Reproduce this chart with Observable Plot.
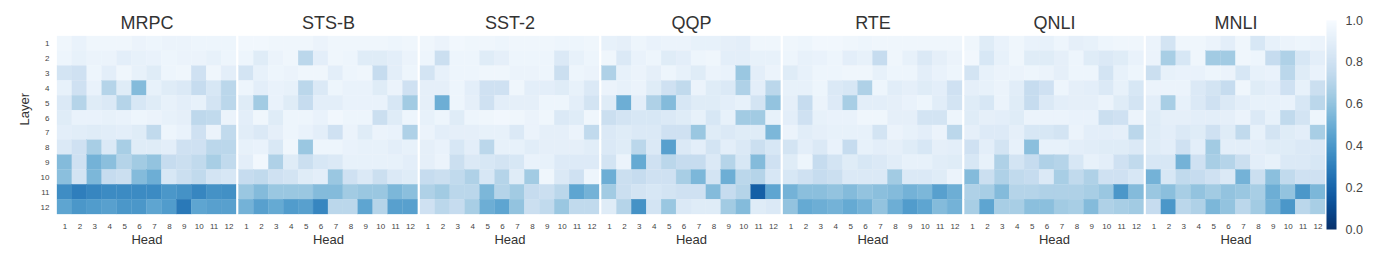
<!DOCTYPE html>
<html>
<head>
<meta charset="utf-8">
<script src="https://cdn.jsdelivr.net/npm/d3@7"></script>
<script src="https://cdn.jsdelivr.net/npm/@observablehq/plot@0.6"></script>
<style>
  html, body { margin: 0; padding: 0; background: #fff; }
  #wrap { position: relative; width: 1381px; height: 266px; overflow: hidden; font-family: "Liberation Sans", Arial, sans-serif; }
  #wrap svg { position: absolute; top: 0; }
</style>
</head>
<body>
<div id="wrap"></div>
<script>
const tasks = ["MRPC", "STS-B", "SST-2", "QQP", "RTE", "QNLI", "MNLI"];
const heads = [1, 2, 3, 4, 5, 6, 7, 8, 9, 10, 11, 12];
const layers = [1, 2, 3, 4, 5, 6, 7, 8, 9, 10, 11, 12];
const colorbarTicks = [0, 0.2, 0.4, 0.6, 0.8, 1.0];

// rows = layers 1..12, columns = heads 1..12
const mrpc = [
  [0.96, 0.93, 0.96, 0.96, 0.96, 0.94, 0.95, 0.94, 0.94, 0.95, 0.95, 0.95],
  [0.95, 0.92, 0.94, 0.94, 0.90, 0.92, 0.93, 0.95, 0.94, 0.94, 0.92, 0.95],
  [0.82, 0.80, 0.95, 0.90, 0.96, 0.92, 0.88, 0.95, 0.96, 0.80, 0.96, 0.90],
  [0.92, 0.80, 0.93, 0.70, 0.88, 0.56, 0.92, 0.88, 0.86, 0.76, 0.84, 0.72],
  [0.86, 0.70, 0.88, 0.86, 0.70, 0.84, 0.88, 0.92, 0.90, 0.92, 0.82, 0.72],
  [0.88, 0.93, 0.93, 0.92, 0.93, 0.95, 0.94, 0.92, 0.91, 0.73, 0.74, 0.94],
  [0.90, 0.89, 0.88, 0.89, 0.90, 0.88, 0.74, 0.95, 0.93, 0.80, 0.94, 0.74],
  [0.86, 0.80, 0.66, 0.86, 0.66, 0.88, 0.88, 0.90, 0.80, 0.80, 0.72, 0.72],
  [0.56, 0.80, 0.52, 0.58, 0.70, 0.64, 0.60, 0.76, 0.78, 0.74, 0.66, 0.74],
  [0.58, 0.82, 0.54, 0.76, 0.78, 0.56, 0.50, 0.84, 0.78, 0.74, 0.82, 0.84],
  [0.36, 0.30, 0.33, 0.35, 0.35, 0.35, 0.35, 0.40, 0.38, 0.33, 0.38, 0.37],
  [0.46, 0.40, 0.42, 0.44, 0.40, 0.40, 0.46, 0.42, 0.28, 0.46, 0.44, 0.44]
];
const stsb = [
  [0.97, 0.97, 0.96, 0.96, 0.96, 0.94, 0.96, 0.96, 0.96, 0.96, 0.95, 0.96],
  [0.95, 0.88, 0.94, 0.96, 0.72, 0.90, 0.96, 0.95, 0.88, 0.88, 0.90, 0.94],
  [0.82, 0.92, 0.95, 0.94, 0.96, 0.96, 0.90, 0.95, 0.96, 0.76, 0.90, 0.95],
  [0.95, 0.90, 0.93, 0.92, 0.72, 0.86, 0.95, 0.93, 0.93, 0.88, 0.94, 0.80],
  [0.88, 0.64, 0.93, 0.88, 0.76, 0.90, 0.90, 0.93, 0.93, 0.93, 0.84, 0.64],
  [0.90, 0.96, 0.88, 0.95, 0.95, 0.93, 0.97, 0.95, 0.95, 0.78, 0.88, 0.95],
  [0.89, 0.86, 0.91, 0.95, 0.93, 0.90, 0.80, 0.94, 0.88, 0.94, 0.93, 0.68],
  [0.92, 0.93, 0.85, 0.96, 0.62, 0.95, 0.95, 0.93, 0.92, 0.92, 0.90, 0.92],
  [0.90, 0.97, 0.68, 0.88, 0.78, 0.84, 0.86, 0.92, 0.92, 0.92, 0.92, 0.90],
  [0.76, 0.74, 0.80, 0.82, 0.88, 0.90, 0.62, 0.80, 0.86, 0.78, 0.86, 0.88],
  [0.62, 0.56, 0.62, 0.62, 0.62, 0.56, 0.56, 0.64, 0.62, 0.62, 0.54, 0.58],
  [0.52, 0.44, 0.48, 0.42, 0.44, 0.33, 0.72, 0.72, 0.46, 0.70, 0.44, 0.44]
];
const sst2 = [
  [0.96, 0.94, 0.97, 0.96, 0.96, 0.95, 0.96, 0.96, 0.96, 0.95, 0.95, 0.96],
  [0.95, 0.78, 0.95, 0.95, 0.88, 0.91, 0.95, 0.95, 0.95, 0.86, 0.92, 0.95],
  [0.82, 0.92, 0.95, 0.95, 0.96, 0.96, 0.94, 0.94, 0.95, 0.78, 0.95, 0.94],
  [0.91, 0.91, 0.95, 0.90, 0.80, 0.80, 0.96, 0.90, 0.90, 0.88, 0.92, 0.86],
  [0.91, 0.50, 0.95, 0.91, 0.80, 0.90, 0.91, 0.91, 0.95, 0.95, 0.90, 0.82],
  [0.92, 0.95, 0.88, 0.95, 0.96, 0.97, 0.96, 0.94, 0.96, 0.86, 0.88, 0.96],
  [0.94, 0.90, 0.91, 0.91, 0.92, 0.92, 0.86, 0.94, 0.91, 0.91, 0.94, 0.74],
  [0.91, 0.93, 0.84, 0.90, 0.72, 0.92, 0.92, 0.89, 0.91, 0.91, 0.91, 0.89],
  [0.91, 0.94, 0.78, 0.86, 0.84, 0.82, 0.84, 0.93, 0.92, 0.87, 0.87, 0.87],
  [0.76, 0.78, 0.74, 0.68, 0.84, 0.70, 0.88, 0.64, 0.96, 0.86, 0.80, 0.95],
  [0.68, 0.64, 0.72, 0.72, 0.54, 0.70, 0.64, 0.76, 0.78, 0.72, 0.46, 0.52],
  [0.80, 0.72, 0.76, 0.66, 0.50, 0.46, 0.60, 0.78, 0.74, 0.62, 0.74, 0.74]
];
const qqp = [
  [0.92, 0.91, 0.95, 0.93, 0.94, 0.94, 0.92, 0.92, 0.91, 0.90, 0.96, 0.96],
  [0.96, 0.86, 0.93, 0.95, 0.88, 0.90, 0.95, 0.96, 0.90, 0.90, 0.92, 0.92],
  [0.68, 0.92, 0.94, 0.91, 0.95, 0.92, 0.88, 0.94, 0.93, 0.62, 0.90, 0.94],
  [0.94, 0.92, 0.94, 0.88, 0.80, 0.74, 0.94, 0.88, 0.86, 0.68, 0.90, 0.72],
  [0.88, 0.50, 0.90, 0.68, 0.56, 0.84, 0.88, 0.88, 0.90, 0.92, 0.82, 0.60],
  [0.78, 0.82, 0.84, 0.84, 0.86, 0.88, 0.92, 0.84, 0.92, 0.64, 0.64, 0.92],
  [0.86, 0.88, 0.86, 0.86, 0.80, 0.80, 0.62, 0.88, 0.86, 0.88, 0.88, 0.54],
  [0.86, 0.88, 0.72, 0.86, 0.44, 0.86, 0.90, 0.82, 0.90, 0.86, 0.78, 0.84],
  [0.82, 0.94, 0.48, 0.80, 0.72, 0.76, 0.76, 0.86, 0.70, 0.84, 0.56, 0.80],
  [0.50, 0.78, 0.76, 0.80, 0.80, 0.66, 0.54, 0.82, 0.50, 0.72, 0.70, 0.84],
  [0.64, 0.78, 0.82, 0.84, 0.82, 0.80, 0.80, 0.56, 0.76, 0.70, 0.18, 0.46],
  [0.88, 0.70, 0.38, 0.82, 0.62, 0.86, 0.88, 0.88, 0.64, 0.56, 0.88, 0.86]
];
const rte = [
  [0.96, 0.95, 0.97, 0.97, 0.96, 0.95, 0.96, 0.96, 0.96, 0.96, 0.96, 0.96],
  [0.95, 0.92, 0.93, 0.95, 0.90, 0.92, 0.76, 0.96, 0.92, 0.86, 0.91, 0.94],
  [0.88, 0.92, 0.95, 0.95, 0.96, 0.96, 0.92, 0.95, 0.95, 0.90, 0.93, 0.95],
  [0.92, 0.92, 0.95, 0.86, 0.84, 0.68, 0.95, 0.89, 0.91, 0.88, 0.90, 0.80],
  [0.91, 0.76, 0.94, 0.87, 0.66, 0.90, 0.90, 0.91, 0.93, 0.95, 0.89, 0.82],
  [0.90, 0.80, 0.92, 0.93, 0.93, 0.96, 0.96, 0.91, 0.91, 0.82, 0.82, 0.95],
  [0.94, 0.89, 0.91, 0.92, 0.92, 0.92, 0.82, 0.94, 0.92, 0.90, 0.94, 0.72],
  [0.82, 0.90, 0.86, 0.93, 0.76, 0.92, 0.90, 0.91, 0.88, 0.84, 0.91, 0.90],
  [0.88, 0.95, 0.76, 0.82, 0.88, 0.84, 0.86, 0.89, 0.92, 0.92, 0.89, 0.88],
  [0.84, 0.80, 0.76, 0.78, 0.86, 0.86, 0.86, 0.64, 0.86, 0.86, 0.88, 0.94],
  [0.52, 0.58, 0.58, 0.60, 0.56, 0.60, 0.58, 0.56, 0.52, 0.54, 0.44, 0.50],
  [0.60, 0.48, 0.50, 0.52, 0.48, 0.52, 0.60, 0.50, 0.42, 0.46, 0.56, 0.52]
];
const qnli = [
  [0.96, 0.88, 0.93, 0.96, 0.93, 0.92, 0.95, 0.91, 0.92, 0.95, 0.96, 0.96],
  [0.97, 0.84, 0.92, 0.96, 0.88, 0.88, 0.91, 0.95, 0.88, 0.86, 0.88, 0.93],
  [0.82, 0.92, 0.94, 0.94, 0.95, 0.94, 0.91, 0.95, 0.95, 0.82, 0.92, 0.95],
  [0.91, 0.92, 0.94, 0.89, 0.76, 0.80, 0.95, 0.91, 0.90, 0.86, 0.92, 0.84],
  [0.88, 0.84, 0.94, 0.88, 0.76, 0.86, 0.90, 0.91, 0.91, 0.94, 0.88, 0.82],
  [0.88, 0.91, 0.90, 0.88, 0.94, 0.94, 0.94, 0.93, 0.93, 0.78, 0.80, 0.94],
  [0.91, 0.87, 0.87, 0.91, 0.84, 0.84, 0.82, 0.94, 0.90, 0.90, 0.91, 0.72],
  [0.80, 0.90, 0.82, 0.92, 0.58, 0.92, 0.92, 0.90, 0.89, 0.88, 0.88, 0.86],
  [0.84, 0.92, 0.68, 0.82, 0.76, 0.68, 0.70, 0.84, 0.92, 0.90, 0.80, 0.74],
  [0.56, 0.78, 0.68, 0.74, 0.76, 0.86, 0.66, 0.74, 0.68, 0.80, 0.80, 0.84],
  [0.68, 0.66, 0.56, 0.70, 0.70, 0.68, 0.68, 0.68, 0.66, 0.62, 0.40, 0.56],
  [0.66, 0.46, 0.66, 0.66, 0.58, 0.58, 0.64, 0.66, 0.56, 0.68, 0.66, 0.64]
];
const mnli = [
  [0.94, 0.82, 0.96, 0.96, 0.94, 0.90, 0.96, 0.84, 0.92, 0.94, 0.95, 0.94],
  [0.94, 0.66, 0.84, 0.96, 0.64, 0.64, 0.96, 0.95, 0.76, 0.68, 0.84, 0.90],
  [0.78, 0.92, 0.93, 0.93, 0.95, 0.94, 0.84, 0.92, 0.93, 0.72, 0.88, 0.93],
  [0.94, 0.94, 0.94, 0.86, 0.82, 0.76, 0.96, 0.88, 0.90, 0.80, 0.92, 0.78],
  [0.90, 0.66, 0.92, 0.86, 0.80, 0.86, 0.90, 0.92, 0.92, 0.93, 0.84, 0.72],
  [0.88, 0.91, 0.91, 0.90, 0.90, 0.91, 0.94, 0.86, 0.92, 0.74, 0.82, 0.95],
  [0.88, 0.90, 0.86, 0.88, 0.80, 0.88, 0.74, 0.92, 0.82, 0.88, 0.90, 0.66],
  [0.88, 0.90, 0.80, 0.90, 0.64, 0.90, 0.90, 0.90, 0.88, 0.88, 0.86, 0.86],
  [0.84, 0.84, 0.52, 0.80, 0.66, 0.70, 0.78, 0.90, 0.92, 0.86, 0.86, 0.84],
  [0.52, 0.84, 0.74, 0.76, 0.80, 0.86, 0.52, 0.78, 0.58, 0.74, 0.80, 0.80],
  [0.62, 0.58, 0.66, 0.60, 0.64, 0.60, 0.62, 0.66, 0.50, 0.60, 0.40, 0.54],
  [0.76, 0.40, 0.72, 0.68, 0.54, 0.60, 0.72, 0.64, 0.52, 0.40, 0.72, 0.66]
];

const grids = [mrpc, stsb, sst2, qqp, rte, qnli, mnli];
const cells = [];
tasks.forEach((task, ti) => {
  grids[ti].forEach((row, li) => {
    row.forEach((v, hi) => {
      cells.push({task, layer: layers[li], head: heads[hi], v});
    });
  });
});

const font = "'Liberation Sans', Arial, sans-serif";
const colorScale = {type: "linear", scheme: "blues", reverse: true, domain: [0, 1]};

const main = Plot.plot({
  width: 1381,
  height: 266,
  marginLeft: 57,
  marginRight: 56,
  marginTop: 36,
  marginBottom: 52,
  style: {fontFamily: font, color: "#333", background: "transparent"},
  fx: {domain: tasks, paddingInner: 0.0138, paddingOuter: 0, round: false},
  x: {domain: heads, padding: 0, round: false},
  y: {domain: layers, padding: 0, round: false},
  color: colorScale,
  marks: [
    Plot.cell(cells, {fx: "task", x: "head", y: "layer", fill: "v", stroke: "v", strokeWidth: 0.3, inset: 0}),
    Plot.axisFx({anchor: "top", tickSize: 0, tickPadding: 8, fontSize: 18, label: null}),
    Plot.axisX({anchor: "bottom", tickSize: 0, tickPadding: 9, fontSize: 8, label: null, fill: "#444"}),
    Plot.axisY({anchor: "left", tickSize: 0, tickPadding: 8, fontSize: 8, label: null, fill: "#444"}),
    Plot.text(["Layer"], {fx: () => tasks[0], text: d => d, frameAnchor: "left", dx: -33, rotate: -90, fontSize: 13, fill: "#333"}),
    Plot.text(tasks, {fx: d => d, text: () => "Head", frameAnchor: "bottom", dy: 29.5, fontSize: 13, fill: "#333"})
  ]
});
main.style.left = "0px";

const bar = Plot.plot({
  width: 60,
  height: 266,
  marginLeft: 1,
  marginRight: 49,
  marginTop: 20,
  marginBottom: 37,
  style: {fontFamily: font, color: "#333", background: "transparent", overflow: "visible"},
  x: {domain: [0, 1], axis: null},
  y: {domain: [0, 1]},
  color: colorScale,
  marks: [
    Plot.raster({x1: 0, x2: 1, y1: 0, y2: 1, width: 1, height: 256, fill: (x, y) => y, imageRendering: "auto"}),
    Plot.axisY({anchor: "right", ticks: colorbarTicks, tickFormat: d3.format(".1f"), tickSize: 0, tickPadding: 9, fontSize: 12.5, label: null, fill: "#444"})
  ]
});
bar.style.left = "1325px";

const wrap = document.getElementById("wrap");
wrap.appendChild(main);
wrap.appendChild(bar);
</script>
</body>
</html>
